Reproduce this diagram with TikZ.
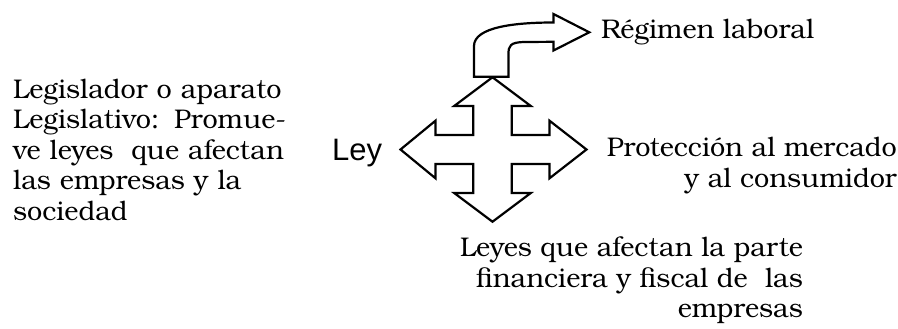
\documentclass[tikz,border=0pt]{standalone}
\usepackage{fontspec}
\setmainfont{TeX Gyre Bonum}
\newfontfamily\leyfont{Liberation Sans}
\tikzset{
  shapeline/.style={draw=black, line width=2.2pt, line join=miter, fill=white},
  txt/.style={inner sep=0pt, font=\fontsize{27}{30.5}\selectfont},
}
\begin{document}
\begin{tikzpicture}[x=1pt,y=-1pt]
\useasboundingbox (0,0) rectangle (898,329);
% quad arrow
\def\cx{492.5}\def\cy{149.5}
\draw[shapeline]
  (\cx,\cy-72.2) -- (\cx+38.3,\cy-43.5) -- (\cx+19.2,\cy-43.5) -- (\cx+19.2,\cy-14.5)
  -- (\cx+57,\cy-14.5) -- (\cx+57,\cy-28.8) -- (\cx+94,\cy) -- (\cx+57,\cy+28.8)
  -- (\cx+57,\cy+14.5) -- (\cx+19.2,\cy+14.5) -- (\cx+19.2,\cy+43.5) -- (\cx+38.3,\cy+43.5)
  -- (\cx,\cy+72.2) -- (\cx-38.3,\cy+43.5) -- (\cx-19.2,\cy+43.5) -- (\cx-19.2,\cy+14.5)
  -- (\cx-57,\cy+14.5) -- (\cx-57,\cy+28.8) -- (\cx-92,\cy) -- (\cx-57,\cy-28.8)
  -- (\cx-57,\cy-14.5) -- (\cx-19.2,\cy-14.5) -- (\cx-19.2,\cy-43.5) -- (\cx-38.3,\cy-43.5)
  -- cycle;
% bent arrow
\draw[shapeline]
  (474,76.7) -- (474,46) .. controls (474,27) and (515,22.5) .. (553.5,22.5)
  -- (553.5,14) -- (589.3,32.3) -- (553.5,50.5) -- (553.5,41.8)
  -- (524,42) .. controls (510,42.3) and (508.5,46) .. (508.5,54)
  -- (508.5,76.7) -- cycle;
% texts
\node[txt, anchor=north west, text width=273pt, align=left] (leg) at (13,78.5)
  {Legislador o aparato\\
   \makebox[\linewidth][s]{Legislativo:\hfill Promue-}\\
   \makebox[\linewidth][s]{ve leyes \ que afectan}\\
   las empresas y la\\
   sociedad};
\node[inner sep=0pt, anchor=base west, font=\leyfont\fontsize{31}{36}\selectfont] (ley) at (332,160.7) {Ley};
\node[txt, anchor=base west] (reg) at (601,39) {Régimen laboral};
\node[txt, anchor=north east, align=right] (prot) at (897,137)
  {Protección al mercado\\y al consumidor};
\node[txt, anchor=north east, align=right] (fin) at (803,236.5)
  {Leyes que afectan la parte\\financiera y fiscal de \ las\\empresas};
\end{tikzpicture}
\end{document}
